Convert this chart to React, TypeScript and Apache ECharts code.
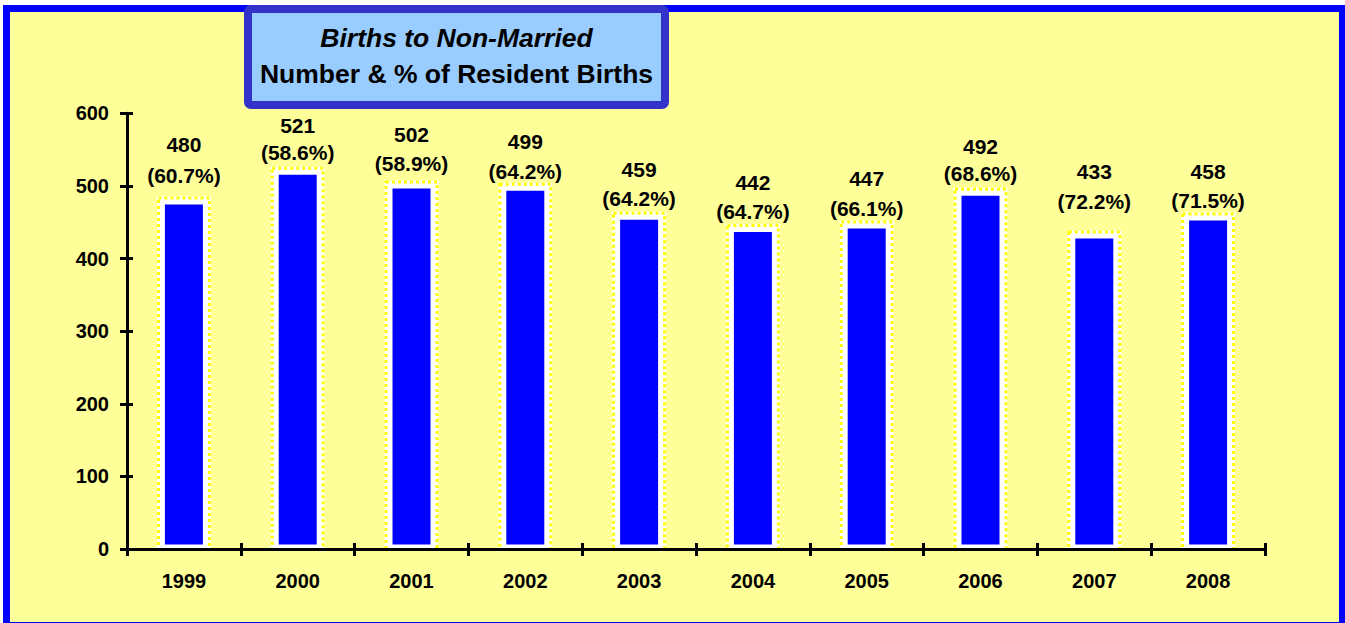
import React, { useEffect, useRef } from "react";
import * as echarts from "echarts";

const years = ["1999", "2000", "2001", "2002", "2003", "2004", "2005", "2006", "2007", "2008"];
const births = [480, 521, 502, 499, 459, 442, 447, 492, 433, 458];
const percents = ["60.7", "58.6", "58.9", "64.2", "64.2", "64.7", "66.1", "68.6", "72.2", "71.5"];
// label offsets above each bar top (px), as placed in the original
const pctLabelGap = [14.9, 7.7, 10.6, 5.1, 6.9, 5.8, 5.6, 7.9, 22.4, 5.9];
const numLabelGap = [45.9, 34.4, 39.9, 34.4, 35.2, 34.8, 35.6, 34.5, 52.4, 34.2];
const titleLine1 = "Births to Non-Married";
const titleLine2 = "Number & % of Resident Births";

const FONT = "'Liberation Sans', Arial, Helvetica, sans-serif";

export default function App() {
  const ref = useRef<HTMLDivElement>(null);
  useEffect(() => {
    if (!ref.current) return;
    const chart = echarts.init(ref.current, undefined, { renderer: "svg" });
    const axisLabelStyle = { color: "#000", fontFamily: FONT, fontWeight: "bold" as const, fontSize: 20 };
    const labelText = { color: "#000", fontFamily: FONT, fontWeight: "bold" as const, fontSize: 21 };

    const renderBar = (params: any, api: any) => {
      const topPt = api.coord([api.value(0), api.value(1)]);
      const basePt = api.coord([api.value(0), 0]);
      const cx = topPt[0];
      const top = topPt[1];
      const bottom = basePt[1];
      const half = 27; // outer half width
      const bw = 8; // frame width (centered on value edge)
      return {
        type: "group",
        children: [
          {
            type: "rect",
            shape: { x: cx - half, y: top - bw / 2, width: half * 2, height: bottom - top + bw / 2 },
            style: { fill: "#FFFFFF" },
          },
          {
            type: "rect",
            shape: { x: cx - half + bw, y: top + bw / 2, width: half * 2 - bw * 2, height: bottom - top - bw / 2 - 4.5 },
            style: { fill: "#0000FF" },
          },
          {
            type: "rect",
            shape: { x: cx - half + 1.5, y: top - bw / 2 + 1.5, width: half * 2 - 3, height: bottom - top + bw / 2 + 4 },
            style: { fill: "none", stroke: "#FFFF00", lineWidth: 3, lineDash: [3, 3] },
          },
        ],
      };
    };

    chart.setOption({
      animation: false,
      backgroundColor: "#ffffff",
      textStyle: { fontFamily: FONT },
      grid: { left: 127, right: 80, top: 113.3, bottom: 74, containLabel: false },
      xAxis: [
        {
          type: "category",
          data: years,
          z: 10,
          boundaryGap: true,
          axisLine: { show: true, lineStyle: { color: "#000", width: 3 } },
          axisTick: { show: true, inside: false, length: 7, lineStyle: { color: "#000", width: 3 } },
          axisLabel: { ...axisLabelStyle, margin: 22 },
          splitLine: { show: false },
        },
        {
          type: "category",
          data: years,
          position: "bottom",
          z: 10,
          boundaryGap: true,
          axisLine: { show: false },
          axisTick: { show: true, inside: true, length: 6, lineStyle: { color: "#000", width: 3 } },
          axisLabel: { show: false },
          splitLine: { show: false },
        },
      ],
      yAxis: [
        {
          type: "value",
          min: 0,
          max: 600,
          interval: 100,
          z: 10,
          axisLine: { show: true, lineStyle: { color: "#000", width: 3 } },
          axisTick: { show: true, inside: false, length: 7, lineStyle: { color: "#000", width: 3 } },
          axisLabel: { ...axisLabelStyle, margin: 18 },
          splitLine: { show: false },
        },
        {
          type: "value",
          min: 0,
          max: 600,
          interval: 100,
          position: "left",
          z: 10,
          axisLine: { show: false },
          axisTick: { show: true, inside: true, length: 6, lineStyle: { color: "#000", width: 3 } },
          axisLabel: { show: false },
          splitLine: { show: false },
        },
      ],
      graphic: [
        {
          type: "rect",
          z: -100,
          silent: true,
          shape: { x: 6.5, y: 8.5, width: 1336, height: 617 },
          style: { fill: "#FFFF99", stroke: "#0000FF", lineWidth: 7 },
        },
        {
          type: "rect",
          z: 100,
          silent: true,
          shape: { x: 248, y: 9, width: 417, height: 96, r: 3 },
          style: { fill: "#99CCFF", stroke: "#3333CC", lineWidth: 8 },
        },
        {
          type: "text",
          z: 101,
          silent: true,
          x: 456.5,
          y: 38,
          style: {
            text: titleLine1,
            fill: "#000",
            font: `italic bold 26.5px ${FONT}`,
            textAlign: "center",
            textVerticalAlign: "middle",
            verticalAlign: "middle",
          },
        },
        {
          type: "text",
          z: 101,
          silent: true,
          x: 456.5,
          y: 74,
          style: {
            text: titleLine2,
            fill: "#000",
            font: `bold 26.5px ${FONT}`,
            textAlign: "center",
            textVerticalAlign: "middle",
            verticalAlign: "middle",
          },
        },
      ],
      series: [
        {
          type: "custom",
          xAxisIndex: 0,
          yAxisIndex: 0,
          clip: true,
          z: 2,
          silent: true,
          data: births.map((v, i) => [i, v]),
          encode: { x: 0, y: 1 },
          renderItem: renderBar,
        },
        {
          type: "bar",
          data: births.map((v, i) => ({ value: v, label: { distance: pctLabelGap[i] } })),
          barWidth: 54,
          xAxisIndex: 0,
          yAxisIndex: 0,
          z: 3,
          silent: true,
          itemStyle: { color: "rgba(0,0,0,0)", borderWidth: 0 },
          label: {
            show: true,
            position: "top",
            ...labelText,
            formatter: (p: any) => `(${percents[p.dataIndex]}%)`,
          },
        },
        {
          type: "bar",
          data: births.map((v, i) => ({ value: v, label: { distance: numLabelGap[i] } })),
          barWidth: 54,
          barGap: "-100%",
          xAxisIndex: 0,
          yAxisIndex: 0,
          z: 3,
          silent: true,
          itemStyle: { color: "rgba(0,0,0,0)", borderWidth: 0 },
          label: {
            show: true,
            position: "top",
            ...labelText,
            formatter: (p: any) => `${births[p.dataIndex]}`,
          },
        },
      ],
    });
    return () => chart.dispose();
  }, []);
  return (
    <div
      ref={ref}
      style={{ position: "fixed", left: 0, top: 0, width: 1345, height: 623 }}
    />
  );
}
